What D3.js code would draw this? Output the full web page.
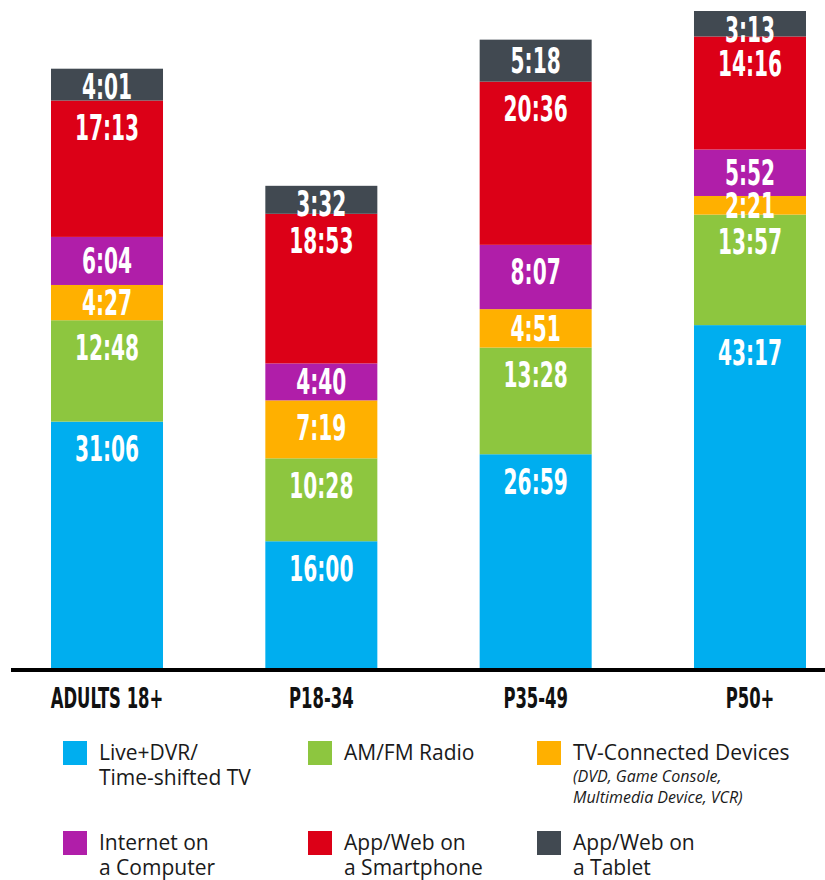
<!DOCTYPE html>
<html>
<head>
<meta charset="utf-8">
<script src="https://cdn.jsdelivr.net/npm/d3@7"></script>
<style>
  body { margin: 0; background: #fff; }
  .val { font-family: "DejaVu Sans Condensed", "Liberation Sans Narrow", sans-serif; font-weight: bold; fill: #fff; }
  .cat { font-family: "DejaVu Sans Condensed", "Liberation Sans Narrow", sans-serif; font-weight: bold; fill: #111; }
  .leg { font-family: "Open Sans", sans-serif; fill: #1a1a1a; }
</style>
</head>
<body>
<div id="chart"></div>
<script>
var svgWidth = 825;
var svgHeight = 880;

// categories and series (hours:minutes per week)
var categories = ["ADULTS 18+", "P18-34", "P35-49", "P50+"];
var keys = ["live", "radio", "devices", "computer", "phone", "tablet"];
var live = ["31:06", "16:00", "26:59", "43:17"];
var radio = ["12:48", "10:28", "13:28", "13:57"];
var devices = ["4:27", "7:19", "4:51", "2:21"];
var computer = ["6:04", "4:40", "8:07", "5:52"];
var phone = ["17:13", "18:53", "20:36", "14:16"];
var tablet = ["4:01", "3:32", "5:18", "3:13"];

var colors = ["#00aeef", "#8dc63f", "#ffb000", "#b01ea9", "#dc0017", "#414951"];

var legendItems = [
  { lines: ["Live+DVR/", "Time-shifted TV"], sub: [] },
  { lines: ["AM/FM Radio"], sub: [] },
  { lines: ["TV-Connected Devices"], sub: ["(DVD, Game Console,", "Multimedia Device, VCR)"] },
  { lines: ["Internet on", "a Computer"], sub: [] },
  { lines: ["App/Web on", "a Smartphone"], sub: [] },
  { lines: ["App/Web on", "a Tablet"], sub: [] }
];

function toMin(s) {
  var p = s.split(":");
  return (+p[0]) * 60 + (+p[1]);
}

var series = { live: live, radio: radio, devices: devices, computer: computer, phone: phone, tablet: tablet };

var data = categories.map(function(c, i) {
  var row = { cat: c };
  keys.forEach(function(k) {
    row[k] = toMin(series[k][i]);
    row[k + "_label"] = series[k][i];
  });
  return row;
});

var baseline = 668;

var svg = d3.select("#chart")
  .append("svg")
  .attr("width", svgWidth)
  .attr("height", svgHeight);

var x = d3.scaleBand()
  .domain(categories)
  .range([51, 806])
  .paddingInner(0.4774)
  .paddingOuter(0);

var maxTotal = d3.max(data, d => d3.sum(keys, k => d[k]));

var y = d3.scaleLinear()
  .domain([0, maxTotal])
  .range([baseline, 11]);

var stacked = d3.stack().keys(keys)(data);

var layers = svg.selectAll("g.layer")
  .data(stacked)
  .enter()
  .append("g")
  .attr("class", "layer")
  .attr("fill", (d, i) => colors[i]);

layers.selectAll("rect")
  .data(d => d)
  .enter()
  .append("rect")
  .attr("x", d => x(d.data.cat))
  .attr("y", d => y(d[1]))
  .attr("width", x.bandwidth())
  .attr("height", d => y(d[0]) - y(d[1]));

// value labels, placed near the top of each segment
stacked.forEach(function(layer, li) {
  svg.append("g").selectAll("text")
    .data(layer)
    .enter()
    .append("text")
    .attr("class", "val")
    .attr("text-anchor", "middle")
    .attr("font-size", 35)
    .attr("transform", function(d) {
      var top = y(d[1]);
      var h = y(d[0]) - top;
      var off = Math.min(27, h / 2);
      if (li === keys.length - 1) off = Math.min(27, Math.max(h / 2, 18));
      var cx = x(d.data.cat) + x.bandwidth() / 2;
      return "translate(" + cx + "," + (top + off + 12.5) + ") scale(0.64,1)";
    })
    .text(d => d.data[layer.key + "_label"]);
});

// axis line
svg.append("line")
  .attr("x1", 11)
  .attr("x2", svgWidth)
  .attr("y1", baseline + 2)
  .attr("y2", baseline + 2)
  .attr("stroke", "#000")
  .attr("stroke-width", 4);

var xAxis = d3.axisBottom(x).tickSize(0).tickPadding(0);
var axisG = svg.append("g")
  .attr("transform", "translate(0," + baseline + ")")
  .call(xAxis);
axisG.select(".domain").remove();
axisG.selectAll(".tick text")
  .attr("class", "cat")
  .attr("font-size", 29)
  .attr("dy", null)
  .attr("y", 40)
  .attr("transform", "scale(0.63,1)");

// legend
var legX = [63, 308, 537];
var legY = [741, 831];
legendItems.forEach(function(item, i) {
  var col = i % 3, row = Math.floor(i / 3);
  var g = svg.append("g").attr("transform", "translate(" + legX[col] + "," + legY[row] + ")");
  g.append("rect")
    .attr("width", 24)
    .attr("height", 24)
    .attr("fill", colors[i]);
  item.lines.forEach(function(l, j) {
    g.append("text")
      .attr("class", "leg")
      .attr("x", 36)
      .attr("y", 19 + j * 25)
      .attr("font-size", 21)
      .text(l);
  });
  item.sub.forEach(function(l, j) {
    g.append("text")
      .attr("class", "leg")
      .attr("x", 36)
      .attr("y", 41 + j * 21)
      .attr("font-size", 16)
      .attr("font-style", "italic")
      .text(l);
  });
});
</script>
</body>
</html>
